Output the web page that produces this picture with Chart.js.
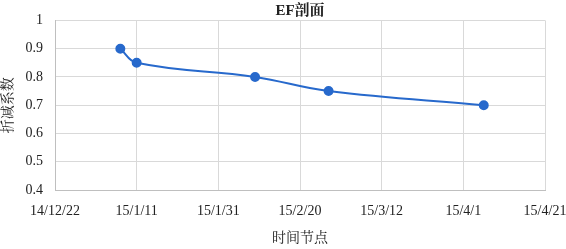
<!DOCTYPE html>
<html>
<head>
<meta charset="utf-8">
<script src="https://cdn.jsdelivr.net/npm/chart.js@4"></script>
<style>
  html, body { margin: 0; padding: 0; background: #fff; }
  #wrap { width: 566px; height: 249px; }
</style>
</head>
<body>
<div id="wrap"><canvas id="c" width="566" height="249"></canvas></div>
<script>
// Data
const dates = ['2015-01-07', '2015-01-11', '2015-02-09', '2015-02-27', '2015-04-06'];
const factors = [0.90, 0.85, 0.80, 0.75, 0.70];
const axisStart = '2014-12-22';
const axisEnd = '2015-04-21';
const tickStepDays = 20;
const yTicks = [0.4, 0.5, 0.6, 0.7, 0.8, 0.9, 1];

const DAY = 86400000;
const toDays = s => (Date.parse(s + 'T00:00:00Z') - Date.parse(axisStart + 'T00:00:00Z')) / DAY;
const fmtDate = d => {
  const t = new Date(Date.parse(axisStart + 'T00:00:00Z') + d * DAY);
  return String(t.getUTCFullYear() % 100) + '/' + (t.getUTCMonth() + 1) + '/' + t.getUTCDate();
};

const points = dates.map((d, i) => ({ x: toDays(d), y: factors[i] }));
const serif = "'Liberation Serif', 'Times New Roman', 'Noto Serif CJK SC', 'Noto Sans CJK SC', serif";
const blue = '#2769cc';

// centre the chart title over the plot area (as in the reference)
const centerTitle = {
  id: 'centerTitle',
  afterLayout(chart) {
    const tb = chart.titleBlock;
    if (tb) {
      tb.left = chart.chartArea.left;
      tb.right = chart.chartArea.right;
      tb.width = tb.right - tb.left;
    }
  }
};

new Chart(document.getElementById('c'), {
  type: 'line',
  data: {
    datasets: [{
      data: points,
      borderColor: blue,
      backgroundColor: blue,
      borderWidth: 2,
      pointRadius: 4,
      pointHoverRadius: 4,
      pointBackgroundColor: blue,
      pointBorderColor: blue,
      tension: 0.4,
      fill: false
    }]
  },
  plugins: [centerTitle],
  options: {
    responsive: false,
    animation: false,
    devicePixelRatio: 1,
    layout: { padding: 0 },
    plugins: {
      legend: { display: false },
      tooltip: { enabled: false },
      title: {
        display: true,
        text: 'EF剖面',
        color: '#222',
        font: { family: serif, size: 15, weight: 'bold' },
        padding: { top: 2, bottom: 0 }
      }
    },
    scales: {
      x: {
        type: 'linear',
        min: 0,
        max: toDays(axisEnd),
        afterBuildTicks: s => {
          const t = [];
          for (let v = 0; v <= toDays(axisEnd); v += tickStepDays) t.push({ value: v });
          s.ticks = t;
        },
        afterFit: s => { s.height = 59; s.paddingRight = 21; s.paddingLeft = 0; },
        grid: { color: '#d9d9d9', drawTicks: false },
        border: { color: '#bfbfbf' },
        ticks: {
          color: '#222',
          padding: 13,
          maxRotation: 0,
          autoSkip: false,
          font: { family: serif, size: 14 },
          callback: v => fmtDate(v)
        },
        title: {
          display: true,
          text: '时间节点',
          color: '#222',
          font: { family: serif, size: 14 },
          padding: { top: 0, bottom: 2 }
        }
      },
      y: {
        type: 'linear',
        min: yTicks[0],
        max: yTicks[yTicks.length - 1],
        afterBuildTicks: s => { s.ticks = yTicks.map(v => ({ value: v })); },
        afterFit: s => { s.width = 55; },
        grid: { color: '#d9d9d9', drawTicks: false },
        border: { color: '#bfbfbf' },
        ticks: {
          color: '#222',
          padding: 12,
          font: { family: serif, size: 14 },
          callback: v => String(Number(v.toFixed(1)))
        },
        title: {
          display: true,
          text: '折减系数',
          color: '#222',
          font: { family: serif, size: 14 },
          padding: { top: 0, bottom: 0 }
        }
      }
    }
  }
});
</script>
</body>
</html>
